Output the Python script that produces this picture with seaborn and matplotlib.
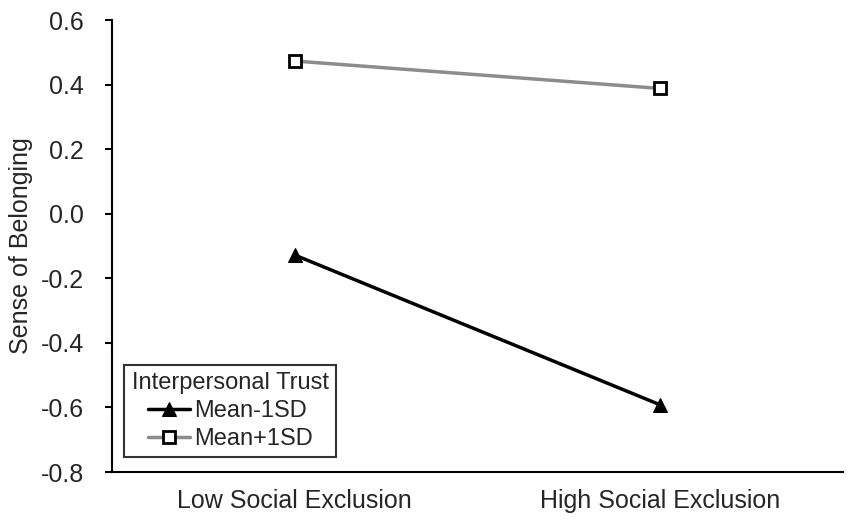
import matplotlib.pyplot as plt
import pandas as pd
import seaborn as sns

# Data
conditions = ["Low Social Exclusion", "High Social Exclusion"]
low_trust = [-0.128, -0.592]   # Mean-1SD
high_trust = [0.473, 0.388]    # Mean+1SD
series_names = ["Mean-1SD", "Mean+1SD"]

df = pd.DataFrame({
    "condition": conditions * 2,
    "x": [0, 1] * 2,
    "belonging": low_trust + high_trust,
    "trust": [series_names[0]] * 2 + [series_names[1]] * 2,
})

sns.set_style("white")
plt.rcParams["font.family"] = ["Liberation Sans", "DejaVu Sans"]

fig = plt.figure(figsize=(8.51, 5.24), dpi=100)
ax = fig.add_axes([0.1316, 0.0992, 0.859, 0.8626])

styles = {
    "Mean-1SD": dict(color="black", marker="^", markerfacecolor="black",
                     markeredgecolor="black", markersize=10),
    "Mean+1SD": dict(color="#8c8c8c", marker="s", markerfacecolor="white",
                     markeredgecolor="black", markersize=9, markeredgewidth=2),
}
for name in series_names:
    sub = df[df["trust"] == name]
    sns.lineplot(data=sub, x="x", y="belonging", ax=ax, label=name,
                 linewidth=2.5, **styles[name])

ax.set_xlim(-0.5, 1.5)
ax.set_ylim(-0.8, 0.6)
ax.set_yticks([-0.8, -0.6, -0.4, -0.2, 0.0, 0.2, 0.4, 0.6])
ax.set_yticklabels([f"{v:.1f}" for v in ax.get_yticks()])
ax.set_xticks([0, 1])
ax.set_xticklabels(conditions)
ax.set_xticks([-0.5, 0.5, 1.5], minor=True)
ax.tick_params(axis="x", which="major", length=0, pad=12, labelsize=18)
ax.tick_params(axis="x", which="minor", direction="inout", length=10, width=1.5,
               color="black")
ax.tick_params(axis="y", which="major", direction="out", length=5, width=1.5,
               color="black", labelsize=18, left=True, pad=15)
ax.set_xlabel("")
ax.set_ylabel("Sense of Belonging", fontsize=18, labelpad=6)

for side in ["top", "right"]:
    ax.spines[side].set_visible(False)
for side in ["left", "bottom"]:
    ax.spines[side].set_color("black")
    ax.spines[side].set_linewidth(1.5)

leg = ax.legend(title="Interpersonal Trust", loc="lower left",
                bbox_to_anchor=(0.017, 0.033), fontsize=17, title_fontsize=17,
                frameon=True, fancybox=False, edgecolor="black",
                handlelength=1.8, handletextpad=0.15, borderpad=0.3,
                labelspacing=0.25, borderaxespad=0)
leg.get_frame().set_linewidth(1.5)

fig.savefig("out.png", dpi=100)
